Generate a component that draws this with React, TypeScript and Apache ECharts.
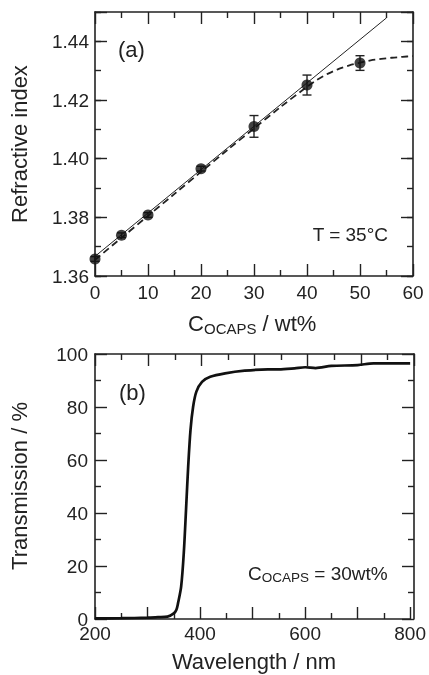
import React, { useEffect, useRef } from "react";
import * as echarts from "echarts";

// ---- Panel (a): refractive index vs concentration ----
const concX = [0, 5, 10, 20, 30, 40, 50];
const refIdx = [1.3658, 1.3739, 1.3808, 1.3966, 1.411, 1.4251, 1.4326];
const refErr = [0.0008, 0.0008, 0.0008, 0.0008, 0.0037, 0.0034, 0.0025];
const fitX = [0, 55];
const fitY = [1.3667, 1.448];
const dashX = [0, 5, 10, 15, 20, 25, 30, 35, 40, 42, 44, 46, 48, 50, 52, 54, 56, 58, 60];
const dashY = [1.3655, 1.373, 1.3805, 1.388, 1.3955, 1.403, 1.4103, 1.4176, 1.4245, 1.427, 1.429, 1.4306, 1.4318, 1.4327, 1.4335, 1.434, 1.4344, 1.4347, 1.435];

// ---- Panel (b): transmission spectrum ----
const waveNm = [200, 250, 300, 320, 338, 350, 355, 358, 364, 369, 373.6, 377.4, 381.8, 386.8, 393, 403.7, 419.4, 447.6, 485, 529, 550, 580, 600, 620, 650, 700, 730, 800];
const transPct = [0.2, 0.3, 0.5, 0.7, 0.9, 2.1, 3.5, 5.9, 12.2, 24.8, 42.4, 57.5, 71.3, 80.1, 85.8, 89.5, 91.4, 92.7, 93.7, 94.2, 94.2, 94.6, 95.0, 94.7, 95.5, 95.8, 96.5, 96.5];

const FONT = "'Liberation Sans', Arial, Helvetica, sans-serif";
const INK = "#222";

function App() {
  const ref = useRef<HTMLDivElement>(null);
  useEffect(() => {
    if (!ref.current) return;
    const chart = echarts.init(ref.current, undefined, { renderer: "svg" });

    const axLine = { show: true, onZero: false, lineStyle: { color: INK, width: 1.6 } };
    const tickLS = { color: INK, width: 1.4 };
    const labelBase = { color: INK, fontSize: 19, fontFamily: FONT };

    const gA = { left: 95, top: 12, width: 318, height: 264 };
    const gB = { left: 95, top: 354, width: 319, height: 265 };

    const xAx = (grid: number, pos: "top" | "bottom", min: number, max: number, interval: number, showLabel: boolean, margin: number, fmt?: (v: number) => string) => {
      const a: any = {
        type: "value",
        gridIndex: grid,
        position: pos,
        min,
        max,
        interval,
        axisLine: axLine,
        axisTick: { show: true, inside: true, length: 12, lineStyle: tickLS },
        minorTick: { show: true, splitNumber: 2, length: 6, lineStyle: tickLS },
        splitLine: { show: false },
        minorSplitLine: { show: false },
        axisLabel: { show: showLabel, margin, ...labelBase },
      };
      if (fmt) a.axisLabel.formatter = fmt;
      return a;
    };
    const xHidden = (grid: number) => ({ type: "value", gridIndex: grid, min: 0, max: 60, show: false });

    const yA = (grid: number, pos: "left" | "right", interval: number, len: number, showLabel: boolean, showLine: boolean) => ({
      type: "value",
      gridIndex: grid,
      position: pos,
      min: 1.36,
      max: 1.45,
      interval,
      axisLine: { ...axLine, show: showLine },
      axisTick: { show: true, inside: true, length: len, lineStyle: tickLS },
      splitLine: { show: false },
      axisLabel: {
        show: showLabel,
        margin: 6,
        ...labelBase,
        formatter: (v: number) => {
          const k = Math.round(v * 100);
          return k % 2 === 0 ? (k / 100).toFixed(2) : "";
        },
      },
    });

    const yB = (grid: number, pos: "left" | "right", showLabel: boolean) => ({
      type: "value",
      gridIndex: grid,
      position: pos,
      min: 0,
      max: 100,
      interval: 20,
      axisLine: axLine,
      axisTick: { show: true, inside: true, length: 12, lineStyle: tickLS },
      minorTick: { show: true, splitNumber: 2, length: 6, lineStyle: tickLS },
      splitLine: { show: false },
      minorSplitLine: { show: false },
      axisLabel: { show: showLabel, margin: 7, ...labelBase },
    });

    const errData = concX.map((x, i) => [x, refIdx[i], refErr[i]]);

    const txt = (x: number, y: number, text: string, size: number, align: string, extra: any = {}) => ({
      type: "text",
      x,
      y,
      ...extra,
      style: { text, fontSize: size, fontFamily: FONT, fill: INK, align, verticalAlign: "middle", textAlign: align, textVerticalAlign: "middle" },
    });

    const option = {
      animation: false,
      grid: [gA, gA, gA, gA, gB, gB],
      xAxis: [
        xAx(0, "bottom", 0, 60, 10, true, 7),
        xAx(1, "top", 0, 60, 10, false, 7),
        xHidden(2),
        xHidden(3),
        xAx(4, "bottom", 200, 800, 100, true, 5, (v: number) => (v % 200 === 0 ? String(v) : "")),
        xAx(5, "top", 200, 800, 100, false, 5),
      ],
      yAxis: [
        yA(0, "left", 0.01, 6, true, true),
        yA(1, "right", 0.01, 6, false, true),
        yA(2, "left", 0.02, 12, false, false),
        yA(3, "right", 0.02, 12, false, false),
        yB(4, "left", true),
        yB(5, "right", false),
      ],
      series: [
        {
          type: "line",
          xAxisIndex: 0,
          yAxisIndex: 0,
          data: fitX.map((x, i) => [x, fitY[i]]),
          showSymbol: false,
          lineStyle: { color: INK, width: 1 },
          z: 2,
        },
        {
          type: "line",
          xAxisIndex: 0,
          yAxisIndex: 0,
          data: dashX.map((x, i) => [x, dashY[i]]),
          showSymbol: false,
          smooth: 0.3,
          lineStyle: { color: INK, width: 1.8, type: [7, 4] },
          z: 2,
        },
        {
          type: "custom",
          xAxisIndex: 0,
          yAxisIndex: 0,
          data: errData,
          renderItem: (params: any, api: any) => {
            const x = api.value(0);
            const y = api.value(1);
            const e = api.value(2);
            const top = api.coord([x, y + e]);
            const bot = api.coord([x, y - e]);
            const hw = 4.5;
            const st = { stroke: INK, lineWidth: 1.4 };
            return {
              type: "group",
              children: [
                { type: "line", shape: { x1: top[0], y1: top[1], x2: bot[0], y2: bot[1] }, style: st },
                { type: "line", shape: { x1: top[0] - hw, y1: top[1], x2: top[0] + hw, y2: top[1] }, style: st },
                { type: "line", shape: { x1: bot[0] - hw, y1: bot[1], x2: bot[0] + hw, y2: bot[1] }, style: st },
              ],
            };
          },
          z: 3,
        },
        {
          type: "scatter",
          xAxisIndex: 0,
          yAxisIndex: 0,
          data: concX.map((x, i) => [x, refIdx[i]]),
          symbol: "circle",
          symbolSize: 11,
          itemStyle: { color: "#111" },
          z: 4,
        },
        {
          type: "line",
          xAxisIndex: 4,
          yAxisIndex: 4,
          data: waveNm.map((x, i) => [x, transPct[i]]),
          showSymbol: false,
          smooth: 0.3,
          lineStyle: { color: "#111", width: 2.7 },
          z: 3,
        },
      ],
      graphic: [
        txt(19, 144, "Refractive index", 22, "center", { rotation: Math.PI / 2 }),
        txt(19, 486, "Transmission / %", 22, "center", { rotation: Math.PI / 2 }),
        // C_OCAPS / wt%
        txt(188, 323, "C", 22, "left"),
        txt(204, 328, "OCAPS", 15, "left"),
        txt(256.5, 323, " / wt%", 22, "left"),
        txt(254, 661, "Wavelength / nm", 22, "center"),
        txt(118, 49, "(a)", 22, "left"),
        txt(119, 392, "(b)", 22, "left"),
        txt(388, 234, "T = 35°C", 19, "right"),
        // C_OCAPS = 30wt%
        txt(248, 573.6, "C", 19, "left"),
        txt(261.7, 577.3, "OCAPS", 13.5, "left"),
        txt(309, 573.6, " = 30wt%", 19, "left"),
      ],
    };

    chart.setOption(option as any);
    return () => chart.dispose();
  }, []);

  return <div ref={ref} style={{ position: "fixed", left: 0, top: 0, width: 429, height: 675 }} />;
}

export default App;
